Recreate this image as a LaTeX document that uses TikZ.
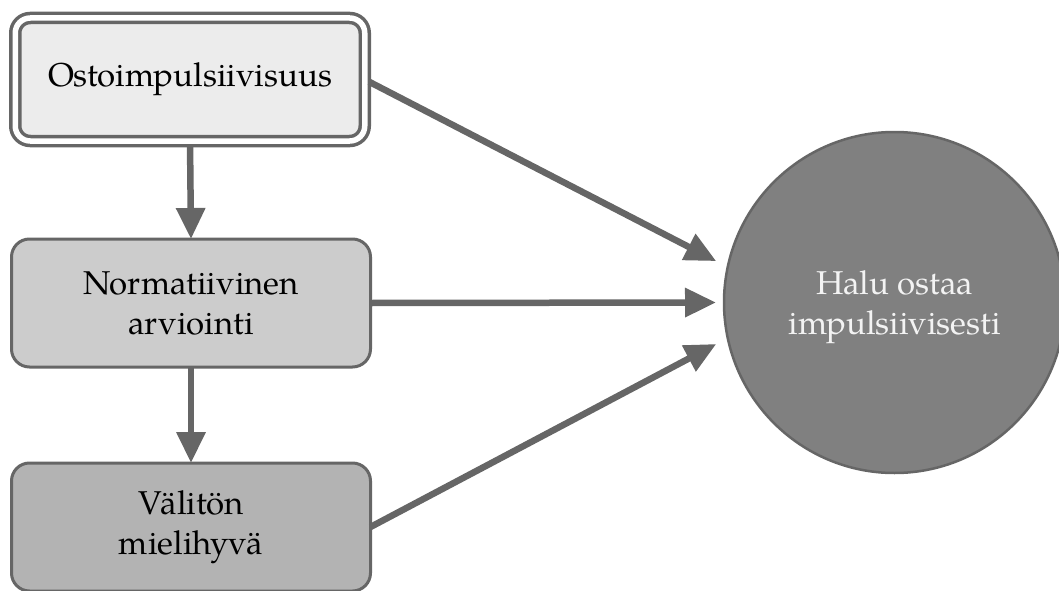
\documentclass[tikz,border=0pt]{standalone}
\usepackage{fontspec}
\setmainfont{TeX Gyre Pagella}
\usetikzlibrary{arrows.meta}
\definecolor{edgegray}{HTML}{666666}
\definecolor{fillA}{HTML}{ECECEC}
\definecolor{fillB}{HTML}{CCCCCC}
\definecolor{fillC}{HTML}{B3B3B3}
\definecolor{fillD}{HTML}{808080}
\definecolor{lighttext}{HTML}{F3F3F3}
\begin{document}
\begin{tikzpicture}[x=1pt,y=-1pt,
  every node/.style={font=\fontsize{33}{40}\selectfont, align=center},
  stepbox/.style={rectangle, draw=edgegray, line width=3pt, rounded corners=18pt,
    minimum width=359pt, minimum height=128pt, inner sep=0pt, outer sep=0pt},
  dblbox/.style={rectangle, draw=edgegray, double=white, double distance=5.5pt,
    line width=3.5pt, rounded corners=15pt, minimum width=349.5pt,
    minimum height=123pt, inner sep=0pt, outer sep=0pt},
  goal/.style={circle, draw=edgegray, line width=2.5pt, fill=fillD,
    minimum size=341pt, inner sep=0pt, outer sep=0pt, text=lighttext},
  conn/.style={draw=edgegray, line width=6.5pt,
    -{Triangle[length=31pt,width=28pt]}}
]
\useasboundingbox (0,0) rectangle (1059,591);
\node[dblbox, fill=fillA] (o) at (190,79.5) {\raisebox{-3pt}{Ostoimpulsiivisuus}};
\node[stepbox, fill=fillB] (n) at (191,303) {Normatiivinen\\arviointi};
\node[stepbox, fill=fillC] (v) at (191,527) {Välitön\\mielihyvä};
\node[goal] (h) at (894.5,302.5) {\rule{0pt}{34pt}Halu ostaa\\impulsiivisesti};
\draw[conn, shorten <=6pt] (o.south) -- (n.north);
\draw[conn] (n.south) -- (v.north);
\draw[conn, shorten <=5pt, shorten >=13pt] (o.east) -- (h.168);
\draw[conn, shorten >=8pt] (n.east) -- (h.west);
\draw[conn, shorten >=13pt] (v.east) -- (h.192);
\end{tikzpicture}
\end{document}
